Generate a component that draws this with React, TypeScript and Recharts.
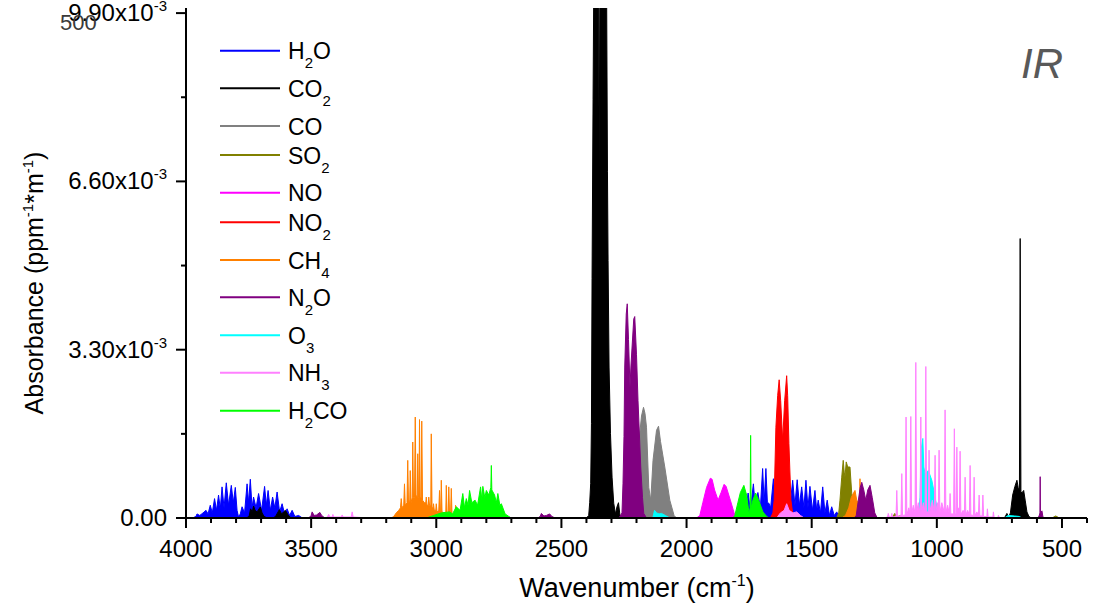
import React from "react";
import { Area, ComposedChart, Legend, XAxis, YAxis } from "recharts";

type Pt = [number, number];

// wavenumber (cm-1), absorbance in units of 1e-3 ppm^-1 m^-1
const h2o: Pt[] = [
  [3975, 0], [3960, 0.03], [3956, 0.08], [3945, 0.05], [3932, 0.1], [3920, 0.15], [3912, 0.08],
  [3903, 0.25], [3895, 0.1], [3886, 0.38], [3878, 0.15], [3870, 0.45], [3863, 0.18], [3856, 0.61],
  [3848, 0.2], [3839, 0.69], [3830, 0.25], [3819, 0.64], [3811, 0.3], [3803, 0.6], [3796, 0.15],
  [3790, 0.02], [3783, 0.08], [3776, 0.22], [3766, 0.1], [3756, 0.67], [3750, 0.3], [3743, 0.76],
  [3736, 0.2], [3730, 0.41], [3720, 0.2], [3710, 0.48], [3698, 0.15], [3686, 0.62], [3679, 0.25],
  [3672, 0.54], [3663, 0.15], [3654, 0.41], [3645, 0.2], [3636, 0.51], [3626, 0.12], [3616, 0.28],
  [3606, 0.08], [3596, 0.18], [3586, 0.05], [3576, 0.15], [3565, 0.03], [3550, 0.05], [3535, 0],
  [1800, 0], [1775, 0.05], [1765, 0.12], [1754, 0.49], [1745, 0.15], [1733, 0.67], [1725, 0.2],
  [1715, 0.5], [1705, 0.2], [1696, 0.97], [1690, 0.3], [1683, 0.97], [1677, 0.3], [1671, 0.29],
  [1664, 0.2], [1653, 0.77], [1645, 0.3], [1635, 0.6], [1620, 0.4], [1600, 0.5], [1585, 0.3],
  [1576, 0.74], [1567, 0.25], [1558, 0.75], [1549, 0.25], [1540, 0.61], [1531, 0.2], [1523, 0.74],
  [1515, 0.2], [1507, 0.62], [1497, 0.15], [1487, 0.54], [1480, 0.15], [1474, 0.35], [1465, 0.1],
  [1456, 0.61], [1447, 0.1], [1438, 0.35], [1429, 0.05], [1420, 0.22], [1410, 0.05], [1400, 0.12],
  [1390, 0.02], [1375, 0],
];

const co2: Pt[] = [
  [3760, 0], [3748, 0.03], [3742, 0.18], [3735, 0.12], [3730, 0.235], [3724, 0.15], [3716, 0.12],
  [3708, 0.18], [3703, 0.215], [3696, 0.1], [3688, 0.03], [3675, 0],
  [3650, 0], [3640, 0.05], [3632, 0.12], [3627, 0.164], [3618, 0.08], [3610, 0.12], [3603, 0.15],
  [3592, 0.06], [3580, 0],
  [2400, 0], [2391, 0.05], [2387, 0.3], [2383, 0.68], [2380, 1.85], [2377.6, 4.7], [2373.6, 8.2],
  [2370, 11], [2352, 11], [2349, 6.8], [2346, 11], [2320, 11], [2316, 6.8], [2313.6, 5.05],
  [2309.6, 2.96], [2304, 1.66], [2297.6, 0.8], [2291, 0.29], [2284, 0.08], [2278, 0.22], [2272, 0.3],
  [2266, 0.05], [2255, 0],
  [730, 0], [720, 0.09], [713, 0.02], [706, 0.1], [697, 0.45], [688, 0.62], [680, 0.74], [675, 0.6],
  [670, 0.55], [667, 5.48], [664, 0.5], [659, 0.5], [653, 0.54], [647, 0.35], [640, 0.12],
  [632, 0.03], [622, 0],
];

const co: Pt[] = [
  [2230, 0], [2215, 0.05], [2200, 0.3], [2194, 0.6], [2187, 1.65], [2180, 2.0], [2172, 2.17],
  [2166, 2.05], [2160, 1.78], [2151, 0.6], [2143, 0.35], [2134, 1.13], [2120, 1.72], [2112, 1.8],
  [2104, 1.5], [2087, 1.0], [2067, 0.35], [2050, 0.05], [2040, 0],
];

const so2: Pt[] = [
  [1400, 0], [1392, 0.1], [1387, 0.35], [1380, 0.8], [1374, 1.13], [1370, 0.9], [1367, 0.8],
  [1362, 1.1], [1356, 1.0], [1347, 1.0], [1340, 0.48], [1334, 0.15], [1325, 0],
  [1180, 0], [1168, 0.09], [1160, 0.02], [1145, 0.05], [1130, 0],
  [540, 0], [525, 0.04], [510, 0],
];

const no: Pt[] = [
  [1960, 0], [1947, 0.05], [1935, 0.3], [1920, 0.6], [1905, 0.78], [1898, 0.76], [1888, 0.55],
  [1874, 0.35], [1862, 0.5], [1850, 0.66], [1842, 0.62], [1825, 0.35], [1810, 0.1], [1800, 0],
];

const no2: Pt[] = [
  [1665, 0], [1655, 0.1], [1650, 0.35], [1643, 1.78], [1636, 2.4], [1630, 2.71], [1624, 2.3],
  [1616, 1.52], [1608, 2.3], [1600, 2.79], [1596, 2.4], [1591, 1.46], [1583, 0.35], [1575, 0.05],
  [1565, 0],
];

const ch4: Pt[] = [
  [3180, 0], [3170, 0.03], [3160, 0.1], [3150, 0.15], [3143, 0.2], [3140, 0.38], [3137, 0.2],
  [3130, 0.25], [3127, 0.67], [3124, 0.25], [3117, 0.3], [3114, 1.13], [3111, 0.3], [3106, 0.35],
  [3104, 0.93], [3101, 0.3], [3096, 0.4], [3094, 1.49], [3091, 0.4], [3087, 0.4], [3084, 1.98],
  [3081, 0.45], [3076, 0.4], [3074, 1.26], [3071, 0.4], [3069, 0.4], [3067, 1.93], [3064, 0.4],
  [3060, 0.4], [3058, 1.9], [3055, 0.35], [3048, 0.3], [3042, 0.3], [3040, 0.41], [3037, 0.25],
  [3032, 0.25], [3030, 0.41], [3027, 0.25], [3022, 0.25], [3020, 1.65], [3017, 0.2], [3013, 0.2],
  [3011, 0.28], [3008, 0.15], [3002, 0.15], [3000, 0.28], [2997, 0.12], [2990, 0.15], [2987, 0.54],
  [2984, 0.15], [2982, 0.15], [2980, 0.74], [2977, 0.12], [2968, 0.1], [2962, 0.1], [2960, 0.64],
  [2957, 0.1], [2952, 0.1], [2950, 0.61], [2947, 0.08], [2943, 0.08], [2940, 0.58], [2937, 0.06],
  [2930, 0.05], [2925, 0.05], [2923, 0.25], [2920, 0.03], [2910, 0.02], [2900, 0],
  [1380, 0], [1365, 0.05], [1352, 0.2], [1342, 0.4], [1332, 0.5], [1327, 0.54], [1320, 0.35],
  [1312, 0.3], [1308, 0.35], [1307, 0.77], [1305, 0.3], [1298, 0.12], [1285, 0.05], [1270, 0.02],
  [1255, 0],
];

const n2o: Pt[] = [
  [3510, 0], [3500, 0.05], [3496, 0.12], [3488, 0.05], [3478, 0.06], [3465, 0.11], [3458, 0.05],
  [3445, 0],
  [2595, 0], [2585, 0.03], [2580, 0.09], [2570, 0.04], [2560, 0.05], [2547, 0.08], [2538, 0.03],
  [2525, 0],
  [2270, 0], [2258, 0.1], [2254, 0.67], [2250, 1.6], [2247, 2.96], [2241, 4.0], [2237, 4.2],
  [2232, 3.5], [2226, 2.57], [2222, 3.0], [2211, 3.9], [2207, 3.95], [2200, 3.2], [2194, 2.3],
  [2183, 1.0], [2176, 0.4], [2171, 0.09], [2160, 0],
  [1330, 0], [1322, 0.05], [1315, 0.3], [1306, 0.6], [1300, 0.7], [1292, 0.55], [1284, 0.35],
  [1276, 0.55], [1267, 0.64], [1258, 0.4], [1248, 0.1], [1238, 0],
  [600, 0], [592, 0.03], [588, 0.1], [587, 0.81], [586, 0.1], [580, 0.14], [576, 0.02], [570, 0],
];

const o3: Pt[] = [
  [2135, 0], [2128, 0.15], [2120, 0.1], [2110, 0.08], [2100, 0.09], [2085, 0.05], [2074, 0.02],
  [2065, 0],
  [1085, 0], [1073, 0.1], [1067, 0.41], [1063, 1.33], [1056, 1.56], [1052, 1.0], [1047, 0.87],
  [1034, 0.93], [1020, 0.74], [1007, 0.41], [994, 0.05], [985, 0],
  [730, 0], [715, 0.05], [690, 0.04], [670, 0.03], [660, 0],
];

const nh3: Pt[] = [
  [3445, 0], [3435, 0.02], [3430, 0.07], [3425, 0.02], [3416, 0.02], [3413, 0.07], [3410, 0.02],
  [3380, 0.02], [3376, 0.06], [3372, 0.02], [3340, 0.02], [3336, 0.12], [3332, 0.02], [3300, 0.01],
  [3280, 0],
  [1640, 0], [1625, 0.1], [1610, 0.15], [1600, 0.28], [1590, 0.15], [1575, 0.1], [1560, 0.12],
  [1545, 0.05], [1530, 0],
  [1210, 0], [1197, 0.02], [1194, 0.09], [1190, 0.02], [1183, 0.02], [1180, 0.09], [1177, 0.02],
  [1163, 0.03], [1160, 0.54], [1157, 0.03], [1143, 0.05], [1140, 0.87], [1137, 0.05], [1126, 0.06],
  [1123, 1.98], [1120, 0.06], [1112, 0.2], [1107, 0.08], [1104, 1.99], [1101, 0.08], [1094, 0.25],
  [1087, 0.1], [1084, 3.05], [1081, 0.1], [1074, 0.3], [1067, 0.1], [1064, 1.98], [1061, 0.1],
  [1054, 0.3], [1047, 0.12], [1044, 2.97], [1041, 0.12], [1034, 0.12], [1031, 1.33], [1028, 0.12],
  [1018, 0.35], [1010, 0.1], [1007, 1.23], [1004, 0.1], [998, 0.3], [994, 0.1], [991, 1.33],
  [988, 0.1], [980, 0.3], [970, 0.1], [967, 2.12], [964, 0.1], [957, 0.25], [950, 0.08], [947, 0.48],
  [944, 0.08], [933, 0.08], [930, 1.75], [927, 0.08], [923, 0.08], [920, 1.39], [917, 0.08],
  [912, 0.2], [910, 0.07], [907, 1.31], [904, 0.07], [895, 0.15], [890, 0.06], [887, 0.8], [884, 0.06],
  [877, 0.15], [870, 0.06], [867, 1.03], [864, 0.06], [854, 0.05], [851, 0.8], [848, 0.05],
  [840, 0.12], [834, 0.04], [831, 0.45], [828, 0.04], [819, 0.04], [816, 0.45], [813, 0.03],
  [800, 0.03], [798, 0.18], [795, 0.02], [776, 0.02], [774, 0.12], [771, 0.01], [756, 0.01],
  [754, 0.05], [750, 0.01], [740, 0],
];

const h2co: Pt[] = [
  [3040, 0], [3010, 0.05], [2980, 0.1], [2947, 0.12], [2935, 0.08], [2920, 0.22], [2905, 0.15],
  [2894, 0.48], [2887, 0.2], [2880, 0.38], [2873, 0.25], [2867, 0.54], [2858, 0.3], [2845, 0.35],
  [2835, 0.25], [2823, 0.61], [2818, 0.35], [2814, 0.62], [2806, 0.4], [2800, 0.54], [2790, 0.45],
  [2782, 0.6], [2780, 1.03], [2778, 0.55], [2767, 0.45], [2760, 0.3], [2754, 0.48], [2746, 0.25],
  [2740, 0.28], [2725, 0.08], [2710, 0.03], [2700, 0],
  [1815, 0], [1807, 0.05], [1795, 0.3], [1785, 0.5], [1771, 0.64], [1760, 0.45], [1752, 0.15],
  [1750, 0.09], [1746, 0.2], [1744, 1.62], [1742, 0.2], [1735, 0.35], [1724, 0.49], [1712, 0.35],
  [1695, 0.12], [1680, 0.03], [1670, 0],
];

const seriesNames = ["H2O", "CO2", "CO", "SO2", "NO", "NO2", "CH4", "N2O", "O3", "NH3", "H2CO"];
const seriesColors = [
  "#0000ff", "#000000", "#808080", "#808000", "#ff00ff", "#ff0000",
  "#ff8000", "#800080", "#00ffff", "#ff80ff", "#00ff00",
];
const seriesData = [h2o, co2, co, so2, no, no2, ch4, n2o, o3, nh3, h2co];

const xTicks = [
  4000, 3900, 3800, 3700, 3600, 3500, 3400, 3300, 3200, 3100, 3000, 2900, 2800, 2700, 2600, 2500,
  2400, 2300, 2200, 2100, 2000, 1900, 1800, 1700, 1600, 1500, 1400, 1300, 1200, 1100, 1000, 900,
  800, 700, 600, 500, 400,
];
const xTopTicks = [4000, 3750, 3500, 3250, 3000, 2750, 2500, 2250, 2000, 1750, 1500, 1250, 1000, 750, 500];
const yTicks = [0, 1.65, 3.3, 4.95, 6.6, 8.25, 9.9];
const yTickLabels = ["0.00", "", "3.30", "", "6.60", "", "9.90"];

const FONT = '"Liberation Sans", Arial, sans-serif';
const legendRowY = [50.7, 88.3, 126, 155, 192.7, 222.3, 260, 297.3, 335.3, 372.7, 410.7];

const toRows = (pts: Pt[]) => pts.map(([x, y]) => ({ x, y }));

const YTick = (props: any) => {
  const { x, y, payload } = props;
  const i = yTicks.indexOf(payload.value);
  const label = yTickLabels[i] ?? "";
  const major = label !== "";
  return (
    <g>
      <line x1={x - (major ? 10 : 5)} x2={x} y1={y} y2={y} stroke="#000" strokeWidth={2} />
      {major && (
        <text x={x - 19} y={y + 8} textAnchor="end" fontSize={24} fontFamily={FONT} fill="#000">
          {label === "0.00" ? (
            label
          ) : (
            <>
              {label}x10
              <tspan dy={-10} fontSize={15}>
                -3
              </tspan>
            </>
          )}
        </text>
      )}
    </g>
  );
};

const XTick = (props: any) => {
  const { x, y, payload } = props;
  const major = payload.value % 500 === 0;
  return (
    <g>
      <line x1={x} x2={x} y1={y} y2={y + (major ? 10 : 5)} stroke="#000" strokeWidth={2} />
      {major && (
        <text x={x} y={y + 39} textAnchor="middle" fontSize={24} fontFamily={FONT} fill="#000">
          {payload.value}
        </text>
      )}
    </g>
  );
};

const TopTick = (props: any) => {
  const { x, y } = props;
  return <line x1={x} x2={x} y1={y} y2={y + 5} stroke="#000" strokeWidth={2} />;
};

// digits in a formula are drawn as subscripts
const Formula = ({ name, x, y }: { name: string; x: number; y: number }) => {
  const parts = name.split(/(\d+)/).filter((p) => p !== "");
  let sub = false;
  return (
    <text x={x} y={y} fontSize={23} fontFamily={FONT} fill="#000">
      {parts.map((p, i) => {
        const isNum = /\d/.test(p);
        const dy = isNum ? 9 : sub ? -9 : 0;
        sub = isNum;
        return (
          <tspan key={i} dy={dy} fontSize={isNum ? 15 : 23}>
            {p}
          </tspan>
        );
      })}
    </text>
  );
};

const renderLegend = () => (
  <svg width={160} height={430} style={{ overflow: "visible" }}>
    {seriesNames.map((name, i) => (
      <g key={name}>
        <line x1={0} x2={60} y1={legendRowY[i]} y2={legendRowY[i]} stroke={seriesColors[i]} strokeWidth={2} />
        <Formula name={name} x={68} y={legendRowY[i] + 8.5} />
      </g>
    ))}
  </svg>
);

export default function App() {
  return (
    <div style={{ position: "absolute", left: 0, top: 0, width: 1099, height: 605, background: "#fff" }}>
      <ComposedChart width={1099} height={605} margin={{ top: 8, right: 12, bottom: 0, left: 0 }}>
        <XAxis
          xAxisId="b"
          dataKey="x"
          type="number"
          domain={[400, 4000]}
          reversed
          allowDataOverflow
          ticks={xTicks}
          interval={0}
          height={87}
          tickSize={0}
          tickMargin={0}
          tickLine={false}
          axisLine={{ stroke: "#000", strokeWidth: 2 }}
          tick={<XTick />}
        />
        <XAxis
          xAxisId="t"
          orientation="top"
          dataKey="x"
          type="number"
          domain={[400, 4000]}
          reversed
          allowDataOverflow
          ticks={xTopTicks}
          interval={0}
          height={0}
          tickSize={0}
          tickMargin={0}
          tickLine={false}
          axisLine={{ stroke: "#000", strokeWidth: 2 }}
          tick={<TopTick />}
        />
        <YAxis
          yAxisId="l"
          type="number"
          domain={[0, 10]}
          allowDataOverflow
          ticks={yTicks}
          interval={0}
          width={186}
          tickSize={0}
          tickMargin={0}
          tickLine={false}
          axisLine={{ stroke: "#000", strokeWidth: 2 }}
          tick={<YTick />}
        />
        <YAxis
          yAxisId="r"
          orientation="right"
          type="number"
          domain={[0, 10]}
          allowDataOverflow
          width={0}
          tick={false}
          tickLine={false}
          axisLine={{ stroke: "#000", strokeWidth: 2 }}
        />
        {seriesNames.map((name, i) => (
          <Area
            key={name}
            name={name}
            xAxisId="b"
            yAxisId="l"
            data={toRows(seriesData[i])}
            dataKey="y"
            type="linear"
            stroke={seriesColors[i]}
            strokeWidth={1}
            fill={seriesColors[i]}
            fillOpacity={1}
            dot={false}
            activeDot={false}
            isAnimationActive={false}
          />
        ))}
        <Legend
          layout="vertical"
          align="center"
          verticalAlign="middle"
          content={renderLegend}
          wrapperStyle={{ left: 220, top: 0, width: 160, height: 430 }}
        />
      </ComposedChart>
      <svg
        width={1099}
        height={605}
        style={{ position: "absolute", left: 0, top: 0, pointerEvents: "none" }}
      >
        <text x={60} y={30} fontSize={22} fontFamily={FONT} fill="#3a3a3a">
          500
        </text>
        <text transform="translate(43,283) rotate(-90)" textAnchor="middle" fontSize={25} fontFamily={FONT} fill="#000">
          Absorbance (ppm
          <tspan dy={-10} fontSize={15}>-1</tspan>
          <tspan dy={10}>*m</tspan>
          <tspan dy={-10} fontSize={15}>-1</tspan>
          <tspan dy={10}>)</tspan>
        </text>
        <text x={637} y={597} textAnchor="middle" fontSize={27} fontFamily={FONT} fill="#000">
          Wavenumber (cm
          <tspan dy={-11} fontSize={16}>-1</tspan>
          <tspan dy={11}>)</tspan>
        </text>
        <text x={1063} y={78} textAnchor="end" fontSize={42} fontStyle="italic" fontFamily={FONT} fill="#595959">
          IR
        </text>
      </svg>
    </div>
  );
}
